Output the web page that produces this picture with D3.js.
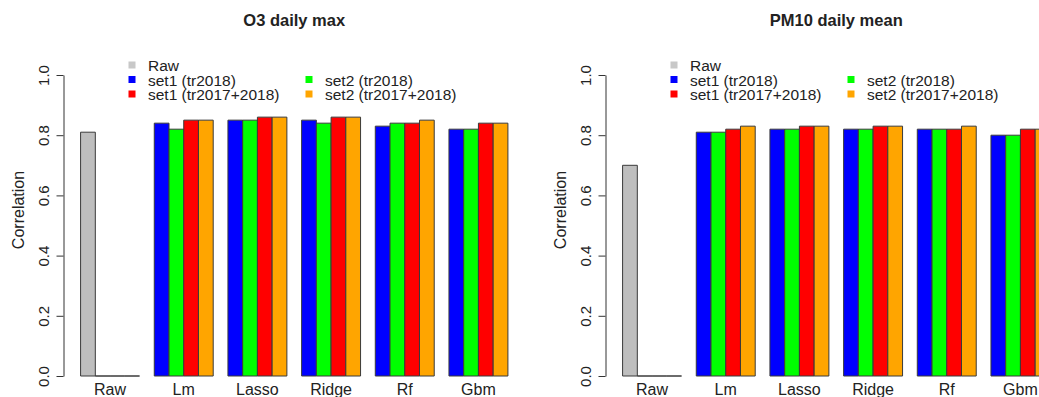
<!DOCTYPE html>
<html>
<head>
<meta charset="utf-8">
<script src="https://cdn.jsdelivr.net/npm/d3@7"></script>
<style>
  body { margin: 0; background: #fff; }
  svg { display: block; font-family: "Liberation Sans", Arial, sans-serif; }
</style>
</head>
<body>
<div class="chart"></div>
<script>
// data
var methods = ["Raw", "Lm", "Lasso", "Ridge", "Rf", "Gbm"];
var seriesNames = ["set1 (tr2018)", "set2 (tr2018)", "set1 (tr2017+2018)", "set2 (tr2017+2018)"];
var seriesColors = ["#0000FF", "#00FF00", "#FF0000", "#FFA500"];
var rawColor = "#BEBEBE";
var yTicks = [0, 0.2, 0.4, 0.6, 0.8, 1.0];

var o3Raw = 0.81;
var o3Set1Tr2018 = [0.84, 0.85, 0.85, 0.83, 0.82];
var o3Set2Tr2018 = [0.82, 0.85, 0.84, 0.84, 0.82];
var o3Set1Tr1718 = [0.85, 0.86, 0.86, 0.84, 0.84];
var o3Set2Tr1718 = [0.85, 0.86, 0.86, 0.85, 0.84];

var pmRaw = 0.70;
var pmSet1Tr2018 = [0.81, 0.82, 0.82, 0.82, 0.80];
var pmSet2Tr2018 = [0.81, 0.82, 0.82, 0.82, 0.80];
var pmSet1Tr1718 = [0.82, 0.83, 0.83, 0.82, 0.82];
var pmSet2Tr1718 = [0.83, 0.83, 0.83, 0.83, 0.82];

var svgWidth = 1039;
var svgHeight = 397;

var svg = d3.select(".chart")
  .append("svg")
  .attr("width", svgWidth)
  .attr("height", svgHeight);

// build the bar table like R's barplot(beside=TRUE): 4 bars + 1 gap per group
function buildBars(raw, s1, s2, s3, s4) {
  var bars = [];
  var cols = [s1, s2, s3, s4];
  methods.forEach(function(m, g) {
    for (var i = 0; i < 4; i++) {
      var v, c;
      if (g == 0) {
        v = (i == 0) ? raw : 0;
        c = (i == 0) ? rawColor : seriesColors[i];
      } else {
        v = cols[i][g - 1];
        c = seriesColors[i];
      }
      bars.push({group: g, idx: i, pos: 1 + g * 5 + i, value: v, color: c});
    }
  });
  return bars;
}

function drawPanel(offsetX, title, bars) {
  var g = svg.append("g").attr("transform", `translate(${offsetX},0)`);

  var x = d3.scaleLinear().domain([-0.16, 31.16]).range([63.5, 525]);
  var y = d3.scaleLinear().domain([0, 1]).range([376, 75]);

  // bars as paths so zero-height ones still show their outline
  g.selectAll("path.bar")
    .data(bars)
    .enter()
    .append("path")
    .attr("class", "bar")
    .attr("d", function(d) {
      var x0 = x(d.pos), x1 = x(d.pos + 1);
      return `M${x0},${y(0)}V${y(d.value)}H${x1}V${y(0)}Z`;
    })
    .attr("fill", d => d.color)
    .attr("stroke", "#3a3a3a")
    .attr("stroke-width", 1);

  // y axis
  var yAxis = g.append("g")
    .attr("transform", `translate(${x.range()[0]},0)`)
    .call(d3.axisLeft(y).tickValues(yTicks).tickSize(7).tickSizeOuter(0).tickFormat(d3.format(".1f")));
  yAxis.select(".domain").attr("stroke", "#333");
  yAxis.selectAll(".tick line").attr("stroke", "#333");
  yAxis.selectAll(".tick text")
    .attr("x", 0)
    .attr("dy", 0)
    .attr("text-anchor", "middle")
    .attr("transform", "translate(-15,0) rotate(-90)")
    .attr("font-size", "15px")
    .attr("font-family", "Liberation Sans, Arial, sans-serif")
    .attr("fill", "#222");

  g.append("text")
    .attr("transform", "translate(24,210) rotate(-90)")
    .attr("text-anchor", "middle")
    .attr("font-size", "16px")
    .attr("fill", "#222")
    .text("Correlation");

  // group names
  g.selectAll("text.name")
    .data(methods)
    .enter()
    .append("text")
    .attr("class", "name")
    .attr("x", (d, i) => x(1 + i * 5 + 2))
    .attr("y", 395)
    .attr("text-anchor", "middle")
    .attr("font-size", "16px")
    .attr("fill", "#222")
    .text(d => d);

  // title
  g.append("text")
    .attr("x", (x.range()[0] + x.range()[1]) / 2)
    .attr("y", 26)
    .attr("text-anchor", "middle")
    .attr("font-size", "16.5px")
    .attr("font-weight", "bold")
    .attr("fill", "#222")
    .text(title);

  // legend, two columns like R legend(ncol=2)
  var legendItems = [
    {name: "Raw", color: "#C8C8C8", col: 0, row: 0},
    {name: seriesNames[0], color: seriesColors[0], col: 0, row: 1},
    {name: seriesNames[2], color: seriesColors[2], col: 0, row: 2},
    {name: seriesNames[1], color: seriesColors[1], col: 1, row: 1},
    {name: seriesNames[3], color: seriesColors[3], col: 1, row: 2}
  ];
  var colX = [132, 309];
  var rowY = [71, 85.5, 100];
  var leg = g.selectAll("g.leg")
    .data(legendItems)
    .enter()
    .append("g")
    .attr("class", "leg")
    .attr("transform", d => `translate(${colX[d.col]},${rowY[d.row]})`);
  leg.append("rect")
    .attr("x", -3.5)
    .attr("y", -9.5)
    .attr("width", 7)
    .attr("height", 7)
    .attr("fill", d => d.color);
  leg.append("text")
    .attr("x", 16)
    .attr("y", 0)
    .attr("font-size", "15.5px")
    .attr("fill", "#222")
    .text(d => d.name);
}

drawPanel(0, "O3 daily max", buildBars(o3Raw, o3Set1Tr2018, o3Set2Tr2018, o3Set1Tr1718, o3Set2Tr1718));
drawPanel(542, "PM10 daily mean", buildBars(pmRaw, pmSet1Tr2018, pmSet2Tr2018, pmSet1Tr1718, pmSet2Tr1718));
</script>
</body>
</html>
